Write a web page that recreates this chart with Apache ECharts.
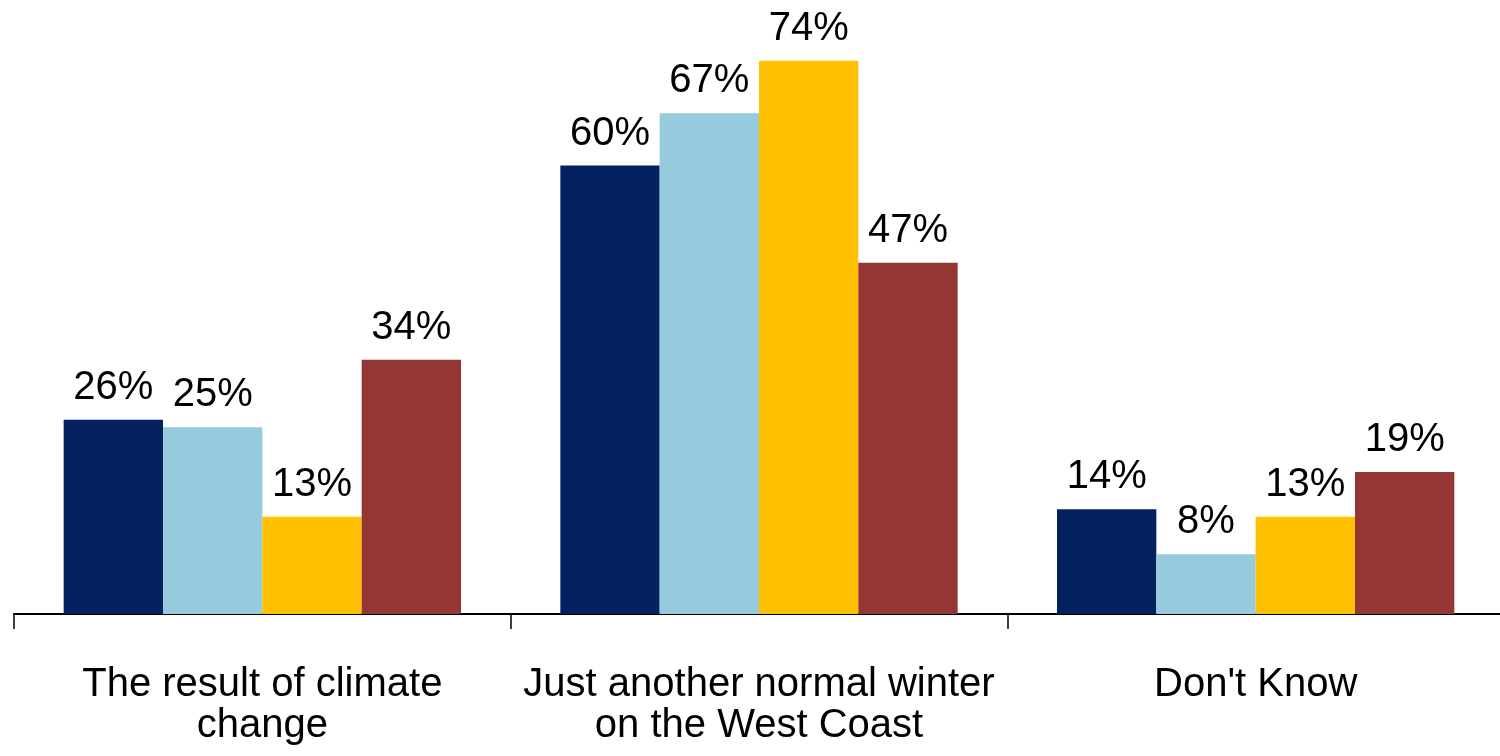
<!DOCTYPE html>
<html>
<head>
<meta charset="utf-8">
<script src="https://cdn.jsdelivr.net/npm/echarts@6/dist/echarts.min.js"></script>
<style>
  html, body { margin: 0; padding: 0; background: #fff; overflow: hidden; }
  /* the last category runs a few pixels past the right edge of the page */
  #chart { width: 1510px; height: 756px; }
</style>
</head>
<body>
<div id="chart"></div>
<script>
// Survey answers, share of respondents (%) per group
const categories = ['The result of climate\nchange', 'Just another normal winter\non the West Coast', "Don't Know"];
const groupA = [26, 60, 14];
const groupB = [25, 67, 8];
const groupC = [13, 74, 13];
const groupD = [34, 47, 19];
const seriesNames = ['Group A', 'Group B', 'Group C', 'Group D'];
const seriesColors = ['#03215F', '#95CBDC', '#FFC000', '#943634'];

const FONT = '"Liberation Sans", Arial, Helvetica, sans-serif';

const chart = echarts.init(document.getElementById('chart'), null, { renderer: 'canvas' });

const makeSeries = (name, data, color) => ({
  name: name,
  type: 'bar',
  data: data,
  barGap: '0%',
  barCategoryGap: '20%',
  itemStyle: { color: color },
  label: {
    show: true,
    position: 'top',
    distance: 12,
    formatter: '{c}%',
    color: '#000',
    fontFamily: FONT,
    fontSize: 40
  },
  emphasis: { disabled: true },
  animation: false
});

chart.setOption({
  animation: false,
  grid: { left: 14, right: 6, top: 16, bottom: 142, containLabel: false },
  xAxis: {
    type: 'category',
    data: categories,
    axisLine: { show: true, lineStyle: { color: '#000', width: 2 } },
    axisTick: { show: true, alignWithLabel: false, length: 15, lineStyle: { color: '#000', width: 1.5 } },
    axisLabel: {
      color: '#000',
      fontFamily: FONT,
      fontSize: 40,
      lineHeight: 41,
      margin: 50,
      interval: 0
    }
  },
  yAxis: {
    type: 'value',
    min: 0,
    max: 80,
    show: false,
    splitLine: { show: false }
  },
  series: [
    makeSeries(seriesNames[0], groupA, seriesColors[0]),
    makeSeries(seriesNames[1], groupB, seriesColors[1]),
    makeSeries(seriesNames[2], groupC, seriesColors[2]),
    makeSeries(seriesNames[3], groupD, seriesColors[3])
  ]
});
</script>
</body>
</html>
